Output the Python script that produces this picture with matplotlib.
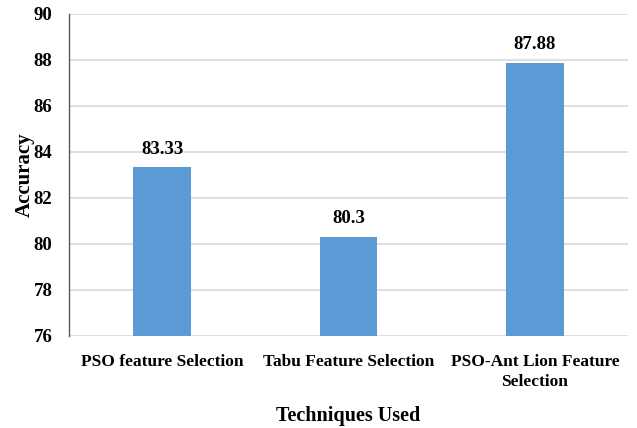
import matplotlib
matplotlib.use("Agg")
import matplotlib.pyplot as plt

techniques = ["PSO feature Selection", "Tabu Feature Selection", "PSO-Ant Lion Feature\nSelection"]
accuracy = [83.33, 80.3, 87.88]
value_labels = ["83.33", "80.3", "87.88"]
y_ticks = [76, 78, 80, 82, 84, 86, 88, 90]

plt.rcParams["font.family"] = ["Liberation Serif", "DejaVu Serif"]
plt.rcParams["font.weight"] = "bold"

fig = plt.figure(figsize=(6.37, 4.28), dpi=100)
ax = fig.add_axes([69 / 637, 1 - 336 / 428, (628 - 69) / 637, (336 - 14) / 428])

x = range(len(techniques))
bars = ax.bar(x, accuracy, width=0.31, color="#5B9BD5", zorder=3)

for b, lbl in zip(bars, value_labels):
    ax.annotate(lbl, (b.get_x() + b.get_width() / 2, b.get_height()),
                xytext=(0, 7), textcoords="offset points",
                ha="center", va="bottom", fontsize=13.5, fontweight="bold")

ax.set_ylim(76, 90)
ax.set_xlim(-0.5, 2.5)
ax.set_yticks(y_ticks)
ax.set_yticklabels([str(t) for t in y_ticks], fontsize=13.5, fontweight="bold")
ax.set_xticks(list(x))
ax.set_xticklabels(techniques, fontsize=12.5, fontweight="bold", linespacing=1.3)
ax.tick_params(axis="both", length=0)
ax.tick_params(axis="x", pad=13)
ax.tick_params(axis="y", pad=12)

ax.yaxis.grid(True, color="#D9D9D9", linewidth=1.2, zorder=0)
for s in ["top", "right", "bottom"]:
    ax.spines[s].set_visible(False)
ax.spines["left"].set_color("#595959")
ax.spines["left"].set_linewidth(1.0)

ax.set_ylabel("Accuracy", fontsize=15, fontweight="bold", labelpad=-1)
ax.set_xlabel("Techniques Used", fontsize=14.5, fontweight="bold", labelpad=12)

fig.savefig("out.png", dpi=100)
